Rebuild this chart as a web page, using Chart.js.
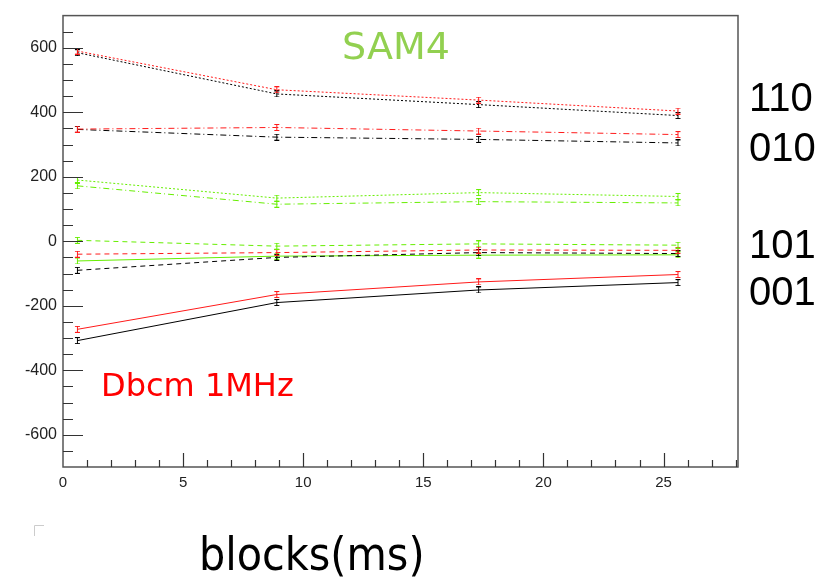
<!DOCTYPE html>
<html>
<head>
<meta charset="utf-8">
<script src="https://cdn.jsdelivr.net/npm/chart.js@4/dist/chart.umd.min.js"></script>
<style>
  html, body { margin: 0; padding: 0; background: #fff; }
  #wrap { width: 817px; height: 579px; }
</style>
</head>
<body>
<div id="wrap"><canvas id="samChart" width="817" height="579"></canvas></div>
<script>
// x positions of the measurements (ms)
const blocks = [0.6, 8.9, 17.3, 25.6];

// series
const red110Dot = [590, 470, 438, 404];
const black110Dot = [585, 457, 424, 390];
const red010DashDot = [348, 353, 342, 331];
const black010DashDot = [347, 323, 316, 305];
const greenDot = [190, 134, 151, 139];
const greenDashDot = [172, 115, 123, 119];
const green101Dash = [3, -15, -8, -12];
const red101Dash = [-40, -35, -27, -28];
const black101Dash = [-90, -50, -35, -38];
const green001Solid = [-61, -46, -43, -42];
const red001Solid = [-273, -165, -126, -103];
const black001Solid = [-308, -190, -151, -128];

// tick labels
const xTicks = [0, 5, 10, 15, 20, 25];
const yTicks = [-600, -400, -200, 0, 200, 400, 600];

const RED = '#ff1a1a';
const BLACK = '#000000';
const GREEN = '#66ee00';

// small "I" error bar marker
function errMarker(color) {
  const c = document.createElement('canvas');
  c.width = 7; c.height = 7;
  const g = c.getContext('2d');
  g.strokeStyle = color;
  g.lineWidth = 1;
  g.beginPath();
  g.moveTo(1, 0.5); g.lineTo(6, 0.5);
  g.moveTo(3.5, 0.5); g.lineTo(3.5, 6.5);
  g.moveTo(1, 6.5); g.lineTo(6, 6.5);
  g.stroke();
  return c;
}

const DOT = [2, 2];
const DASHDOT = [6, 3, 1, 3];
const DASH = [5, 4];

function series(label, values, color, dash) {
  return {
    label: label,
    data: values.map((v, i) => ({ x: blocks[i], y: v })),
    borderColor: color,
    backgroundColor: color,
    borderWidth: 1,
    borderDash: dash,
    pointStyle: errMarker(color),
    pointRadius: 4,
    tension: 0
  };
}

// frame, inner ticks and the free texts
const rootStyle = {
  id: 'rootStyle',
  afterDraw(chart) {
    const ctx = chart.ctx;
    const a = chart.chartArea;
    const xs = chart.scales.x, ys = chart.scales.y;
    ctx.save();
    ctx.strokeStyle = '#555';
    ctx.lineWidth = 1.5;
    ctx.strokeRect(a.left, a.top, a.right - a.left, a.bottom - a.top);

    ctx.lineWidth = 1.2;
    ctx.strokeStyle = '#333';
    ctx.beginPath();
    for (let v = -650; v <= 650; v += 50) {
      const y = Math.round(ys.getPixelForValue(v)) + 0.5;
      const len = v % 200 === 0 ? 20 : 10;
      ctx.moveTo(a.left, y); ctx.lineTo(a.left + len, y);
    }
    for (let v = 1; v <= 28; v++) {
      const x = Math.round(xs.getPixelForValue(v)) + 0.5;
      const len = v % 5 === 0 ? 14 : 7;
      ctx.moveTo(x, a.bottom); ctx.lineTo(x, a.bottom - len);
    }
    ctx.stroke();

    // little corner mark
    ctx.strokeStyle = '#cccccc';
    ctx.lineWidth = 1;
    ctx.beginPath();
    ctx.moveTo(34.5, 536); ctx.lineTo(34.5, 525.5); ctx.lineTo(44, 525.5);
    ctx.stroke();

    ctx.textBaseline = 'alphabetic';
    ctx.fillStyle = '#92d050';
    ctx.font = '38px "DejaVu Sans"';
    ctx.textAlign = 'center';
    ctx.fillText('SAM4', 396, 59);

    ctx.fillStyle = '#ff0000';
    ctx.font = '32px "DejaVu Sans"';
    ctx.textAlign = 'left';
    ctx.fillText('Dbcm 1MHz', 101, 396);

    ctx.fillStyle = '#000';
    ctx.font = '40px "Liberation Sans"';
    ctx.fillText('110', 749, 111);
    ctx.fillText('010', 749, 161);
    ctx.fillText('101', 749, 258);
    ctx.fillText('001', 749, 305);

    ctx.font = '46px "DejaVu Sans Condensed", "DejaVu Sans"';
    ctx.fillText('blocks(ms)', 199, 570);
    ctx.restore();
  }
};

const ctx = document.getElementById('samChart').getContext('2d');
new Chart(ctx, {
  type: 'line',
  data: {
    datasets: [
      series('110 red', red110Dot, RED, DOT),
      series('110 black', black110Dot, BLACK, DOT),
      series('010 red', red010DashDot, RED, DASHDOT),
      series('010 black', black010DashDot, BLACK, DASHDOT),
      series('green dot', greenDot, GREEN, DOT),
      series('green dash-dot', greenDashDot, GREEN, DASHDOT),
      series('101 green', green101Dash, GREEN, DASH),
      series('101 red', red101Dash, RED, DASH),
      series('101 black', black101Dash, BLACK, DASH),
      series('001 green', green001Solid, GREEN, []),
      series('001 red', red001Solid, RED, []),
      series('001 black', black001Solid, BLACK, [])
    ]
  },
  options: {
    responsive: false,
    animation: false,
    layout: { padding: { top: 12, right: 79, left: 0, bottom: 0 } },
    plugins: {
      legend: { display: false },
      tooltip: { enabled: false }
    },
    scales: {
      x: {
        type: 'linear',
        min: 0,
        max: 28.1,
        grid: { display: false, drawTicks: false },
        border: { display: false },
        afterBuildTicks: s => { s.ticks = xTicks.map(v => ({ value: v })); },
        afterFit: s => { s.height = 112; },
        ticks: {
          padding: 7,
          color: '#222',
          maxRotation: 0,
          font: { family: 'Liberation Sans', size: 15 }
        }
      },
      y: {
        type: 'linear',
        min: -700,
        max: 700,
        grid: { display: false, drawTicks: false },
        border: { display: false },
        afterBuildTicks: s => { s.ticks = yTicks.map(v => ({ value: v })); },
        afterFit: s => { s.width = 63; },
        ticks: {
          padding: 6,
          color: '#222',
          font: { family: 'Liberation Sans', size: 16 }
        }
      }
    }
  },
  plugins: [rootStyle]
});
</script>
</body>
</html>
